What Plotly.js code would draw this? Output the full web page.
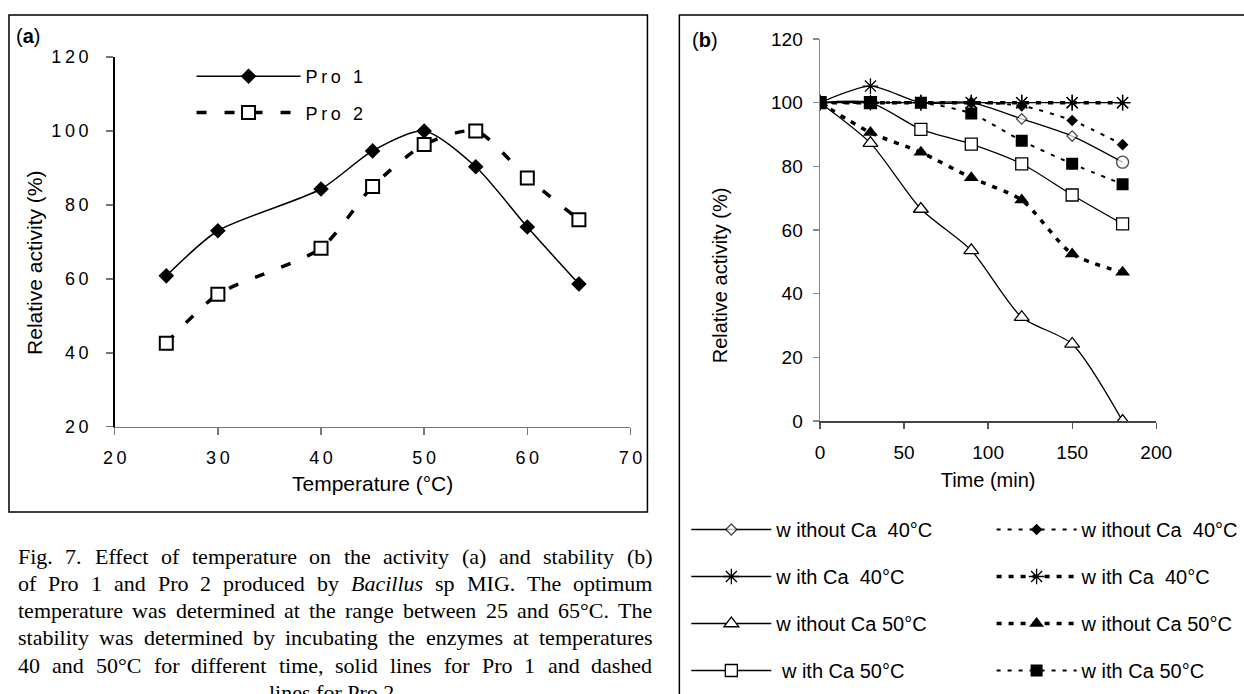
<!DOCTYPE html>
<html><head><meta charset="utf-8">
<script src="https://cdn.plot.ly/plotly-3.0.1.min.js"></script>
<style>html,body{margin:0;padding:0;background:#fff}#chart{width:1244px;height:694px}</style>
</head><body><div id="chart"></div>
<script>
// ---- Panel (a): temperature vs relative activity ----
const temp = [25, 30, 40, 45, 50, 55, 60, 65];
const pro1 = [60.8, 73, 84.3, 94.6, 100, 90.3, 74, 58.6];
const pro2 = [42.6, 55.8, 68.3, 85, 96.3, 100, 87.3, 76];
const aTicksX = [20, 30, 40, 50, 60, 70];
const aTicksY = [20, 40, 60, 80, 100, 120];

// ---- Panel (b): time vs relative activity ----
const time = [0, 30, 60, 90, 120, 150, 180];
const p1NoCa40 = [100, 100, 100, 100, 94.9, 89.5, 81.3];
const p1Ca40   = [100, 105.2, 100, 100, 100, 100, 100];
const p1NoCa50 = [100, 87.3, 66.6, 53.6, 32.6, 24.2, 0];
const p1Ca50   = [100, 100, 91.6, 87, 80.8, 71, 61.9];
const p2NoCa40 = [100, 100, 100, 100, 99, 94.4, 86.8];
const p2Ca40   = [100, 100, 100, 100, 100, 100, 100];
const p2NoCa50 = [100, 90.6, 84.4, 76.4, 69.4, 52.5, 46.7];
const p2Ca50   = [100, 100, 100, 96.6, 88, 80.8, 74.4];
const bTicksX = [0, 50, 100, 150, 200];
const bTicksY = [0, 20, 40, 60, 80, 100, 120];

const namesP1 = ['w ithout Ca\u00a0 40°C', 'w ith Ca\u00a0 40°C', 'w ithout Ca 50°C', '\u00a0w ith Ca 50°C'];
const namesP2 = ['w ithout Ca\u00a0 40°C', 'w ith Ca\u00a0 40°C', 'w ithout Ca 50°C', 'w ith Ca 50°C'];

const captionLines = [
  'Fig. 7. Effect of temperature on the activity (a) and stability (b)',
  'of Pro 1 and Pro 2 produced by <i>Bacillus</i> sp MIG. The optimum',
  'temperature was determined at the range between 25 and 65°C. The',
  'stability was determined by incubating the enzymes at temperatures',
  '40 and 50°C for different time, solid lines for Pro 1 and dashed'
];
const captionLast = 'lines for Pro 2.';

// ---- layout helpers ----
const W = 1244, H = 694;
const px = x => x / W, py = y => 1 - y / H;
const SANS = 'Liberation Sans, Arial, sans-serif';
const SERIF = 'Liberation Serif, Times New Roman, serif';
const spaced = s => String(s).split('').join('\u2009');

const K = '#000';
const SM = 0.7;
const traces = [
  {x: temp, y: pro1, name: spaced('Pro 1'), xaxis: 'x', yaxis: 'y', legend: 'legend', legendgroup: 'a1',
   mode: 'lines+markers', line: {shape: 'spline', smoothing: SM, color: K, width: 1.5},
   marker: {symbol: 'diamond', size: 12, color: K}},
  {x: temp, y: pro2, name: spaced('Pro 2'), xaxis: 'x', yaxis: 'y', legend: 'legend', legendgroup: 'a2',
   mode: 'lines+markers', line: {shape: 'spline', smoothing: SM, color: K, width: 3.5, dash: '10px,18px'},
   marker: {symbol: 'square', size: 13, color: '#fff', line: {color: K, width: 2}}},

  {x: time, y: p1NoCa40, name: namesP1[0], xaxis: 'x2', yaxis: 'y2', legend: 'legend2', legendgroup: 'b1',
   mode: 'lines+markers', line: {shape: 'spline', smoothing: SM, color: K, width: 1.3},
   marker: {symbol: ['diamond','diamond','diamond','diamond','diamond','diamond','circle'], size: [8,8,8,8,8,8,12], color: '#fff', line: {color: K, width: 1.3}}},
  {x: time, y: p1Ca40, name: namesP1[1], xaxis: 'x2', yaxis: 'y2', legend: 'legend2', legendgroup: 'b2',
   mode: 'lines+markers', line: {shape: 'spline', smoothing: SM, color: K, width: 1.3},
   marker: {symbol: 'asterisk-open', size: 13, color: K, line: {color: K, width: 1.3}}},
  {x: time, y: p1NoCa50, name: namesP1[2], xaxis: 'x2', yaxis: 'y2', legend: 'legend2', legendgroup: 'b3',
   mode: 'lines+markers', line: {shape: 'spline', smoothing: SM, color: K, width: 1.3},
   marker: {symbol: 'triangle-up', size: 13, color: '#fff', line: {color: K, width: 1.3}}},
  {x: time, y: p1Ca50, name: namesP1[3], xaxis: 'x2', yaxis: 'y2', legend: 'legend2', legendgroup: 'b4',
   mode: 'lines+markers', line: {shape: 'spline', smoothing: SM, color: K, width: 1.3},
   marker: {symbol: 'square', size: 12, color: '#fff', line: {color: K, width: 1.3}}},

  {x: time, y: p2NoCa40, name: namesP2[0], xaxis: 'x2', yaxis: 'y2', legend: 'legend3', legendgroup: 'c1',
   mode: 'lines+markers', line: {shape: 'spline', smoothing: SM, color: K, width: 2, dash: '4px,7px'},
   marker: {symbol: 'diamond', size: 9, color: K}},
  {x: time, y: p2Ca40, name: namesP2[1], xaxis: 'x2', yaxis: 'y2', legend: 'legend3', legendgroup: 'c2',
   mode: 'lines+markers', line: {shape: 'spline', smoothing: SM, color: K, width: 3.5, dash: '5px,7px'},
   marker: {symbol: 'asterisk-open', size: 13, color: K, line: {color: K, width: 1.3}}},
  {x: time, y: p2NoCa50, name: namesP2[2], xaxis: 'x2', yaxis: 'y2', legend: 'legend3', legendgroup: 'c3',
   mode: 'lines+markers', line: {shape: 'spline', smoothing: SM, color: K, width: 3.5, dash: '5px,7px'},
   marker: {symbol: 'triangle-up', size: 13, color: K}},
  {x: time, y: p2Ca50, name: namesP2[3], xaxis: 'x2', yaxis: 'y2', legend: 'legend3', legendgroup: 'c4',
   mode: 'lines+markers', line: {shape: 'spline', smoothing: SM, color: K, width: 2, dash: '4px,7px'},
   marker: {symbol: 'square', size: 12, color: K}}
];

// ---- caption: justified word placement ----
const ctx = document.createElement('canvas').getContext('2d');
const CAP_SIZE = 22;
function measure(word) {
  const it = word.indexOf('<i>') >= 0;
  ctx.font = (it ? 'italic ' : '') + CAP_SIZE + 'px "Liberation Serif"';
  return ctx.measureText(word.replace(/<\/?i>/g, '')).width;
}
const annotations = [];
const capX0 = 17, capX1 = 653, capY0 = 556, capDY = 27.3;
captionLines.forEach((line, i) => {
  const words = line.split(' ');
  const widths = words.map(measure);
  const total = widths.reduce((a, b) => a + b, 0);
  const gap = (capX1 - capX0 - total) / (words.length - 1);
  let x = capX0;
  words.forEach((w, j) => {
    annotations.push({xref: 'paper', yref: 'paper', x: px(x), y: py(capY0 + i * capDY),
      xanchor: 'left', yanchor: 'middle', text: w, showarrow: false, borderpad: 0,
      font: {family: SERIF, size: CAP_SIZE, color: K}});
    x += widths[j] + gap;
  });
});
annotations.push({xref: 'paper', yref: 'paper', x: px(335), y: py(capY0 + 5 * capDY), xanchor: 'center', yanchor: 'middle',
  text: captionLast, showarrow: false, borderpad: 0, font: {family: SERIF, size: CAP_SIZE, color: K}});

// panel labels and y titles
annotations.push({xref: 'paper', yref: 'paper', x: px(14), y: py(36), xanchor: 'left', yanchor: 'middle',
  text: '(<b>a</b>)', showarrow: false, font: {family: SANS, size: 20, color: K}});
annotations.push({xref: 'paper', yref: 'paper', x: px(692), y: py(40), xanchor: 'left', yanchor: 'middle',
  text: '(<b>b</b>)', showarrow: false, font: {family: SANS, size: 20, color: K}});
annotations.push({xref: 'paper', yref: 'paper', x: px(34), y: py(263), xanchor: 'center', yanchor: 'middle', textangle: -90,
  text: 'Relative activity (%)', showarrow: false, font: {family: SANS, size: 21, color: K}});
annotations.push({xref: 'paper', yref: 'paper', x: px(722), y: py(275), xanchor: 'center', yanchor: 'middle', textangle: -90,
  text: 'Relative activity (%)', showarrow: false, font: {family: SANS, size: 20, color: K}});

const shapes = [
  {type: 'rect', xref: 'paper', yref: 'paper', x0: px(9), x1: px(649), y0: py(15), y1: py(512), line: {color: K, width: 1.5}},
  {type: 'rect', xref: 'paper', yref: 'paper', x0: px(681), x1: px(1270), y0: py(15), y1: py(720), line: {color: K, width: 1.5}}
];

const legBase = {bgcolor: 'rgba(0,0,0,0)', borderwidth: 0, traceorder: 'grouped', xanchor: 'left', yanchor: 'top'};
const layout = {
  width: W, height: H, margin: {l: 0, r: 0, t: 0, b: 0}, paper_bgcolor: '#fff', plot_bgcolor: 'rgba(0,0,0,0)',
  showlegend: true,
  xaxis: {domain: [px(115), px(632)], range: [20, 70], tickvals: aTicksX, ticktext: aTicksX.map(spaced),
    ticks: 'outside', ticklen: 7, tickcolor: '#777', tickwidth: 1.5, showline: true, linecolor: '#777', linewidth: 1.5,
    showgrid: false, zeroline: false, ticklabelstandoff: 7, tickfont: {family: SANS, size: 18, color: K},
    title: {text: 'Temperature (°C)', standoff: 9, font: {family: SANS, size: 21, color: K}}, anchor: 'y', fixedrange: true},
  yaxis: {domain: [py(426.7), py(57)], range: [20, 120], tickvals: aTicksY, ticktext: aTicksY.map(spaced),
    ticks: 'outside', ticklen: 7, tickcolor: '#777', tickwidth: 1.5, showline: true, linecolor: K, linewidth: 1.5,
    showgrid: false, zeroline: false, ticklabelstandoff: 14, tickfont: {family: SANS, size: 18, color: K}, anchor: 'x', fixedrange: true},
  xaxis2: {domain: [px(822), px(1159)], range: [0, 200], tickvals: bTicksX,
    ticks: 'outside', ticklen: 6, tickcolor: '#555', tickwidth: 1.3, showline: true, linecolor: '#444', linewidth: 1.5,
    showgrid: false, zeroline: false, ticklabelstandoff: 8, tickfont: {family: SANS, size: 19, color: K},
    title: {text: 'Time (min)', standoff: 10, font: {family: SANS, size: 20, color: K}}, anchor: 'y2', fixedrange: true},
  yaxis2: {domain: [py(421), py(39)], range: [0, 120], tickvals: bTicksY,
    ticks: 'outside', ticklen: 6, tickcolor: '#888', tickwidth: 1.3, showline: true, linecolor: '#888', linewidth: 1.5,
    showgrid: false, zeroline: false, ticklabelstandoff: 6, tickfont: {family: SANS, size: 19, color: K}, anchor: 'x2', fixedrange: true},
  legend: Object.assign({}, legBase, {x: px(192), y: py(58), itemwidth: 104, tracegroupgap: 10, font: {family: SANS, size: 18, color: K}}),
  legend2: Object.assign({}, legBase, {x: px(688), y: py(510), itemwidth: 80, tracegroupgap: 18, font: {family: SANS, size: 20, color: K}}),
  legend3: Object.assign({}, legBase, {x: px(994), y: py(510), itemwidth: 80, tracegroupgap: 18, font: {family: SANS, size: 20, color: K}}),
  annotations: annotations,
  shapes: shapes
};
Plotly.newPlot('chart', traces, layout, {displayModeBar: false, staticPlot: true});
</script></body></html>
